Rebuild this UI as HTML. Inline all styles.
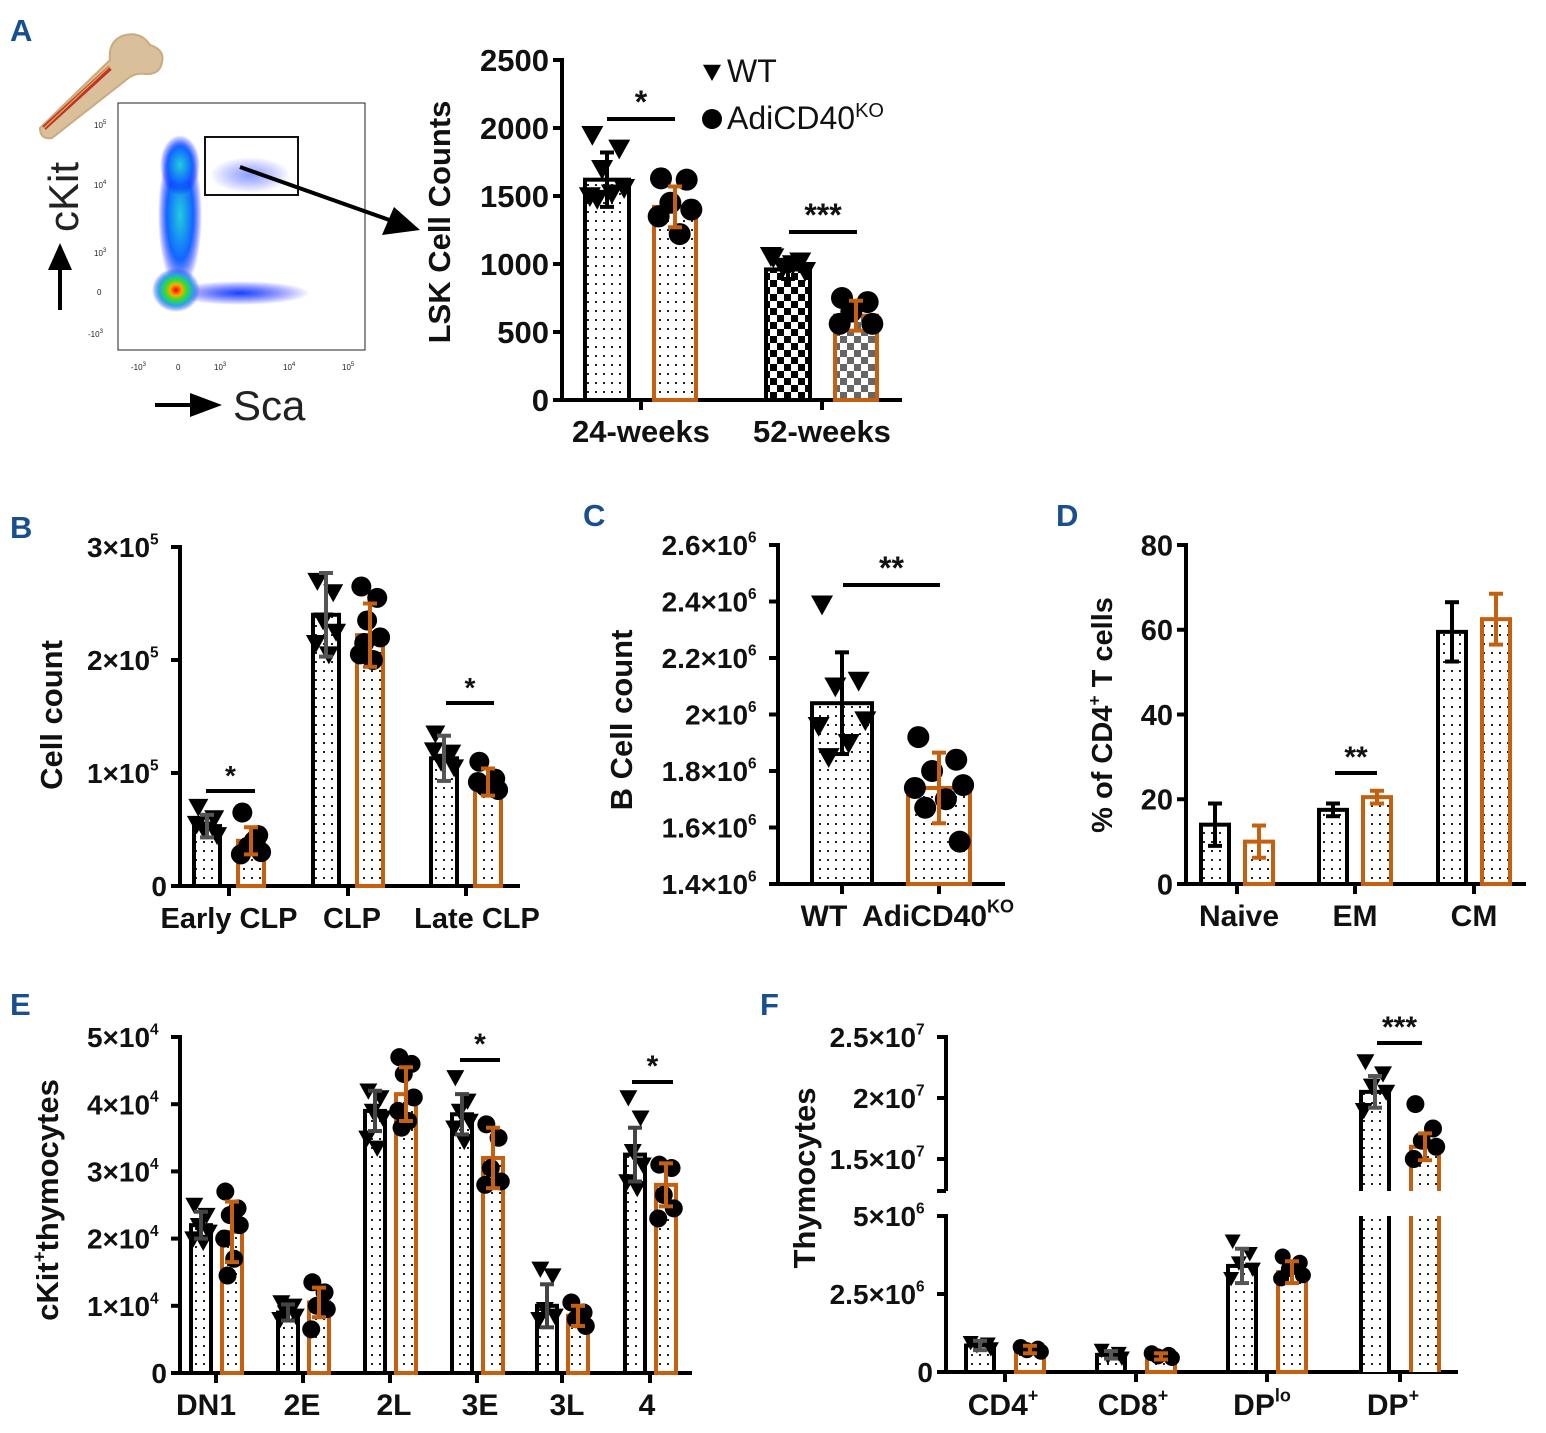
<!DOCTYPE html>
<html><head><meta charset="utf-8"><style>
html,body{margin:0;padding:0;background:#fff;}
svg{display:block;font-family:"Liberation Sans",Arial,sans-serif;}
.t{font-weight:bold;fill:#111;}
.pl{font-weight:bold;fill:#174f8f;font-size:31px;}
</style></head><body>
<svg id="fig" width="1546" height="1433" viewBox="0 0 1546 1433" xmlns="http://www.w3.org/2000/svg">
<defs>
<pattern id="dots" width="8" height="9" patternUnits="userSpaceOnUse"><rect width="8" height="9" fill="#fff"/><rect x="3" y="4" width="2" height="2" fill="#222"/></pattern>
<pattern id="chk" width="14" height="14" patternUnits="userSpaceOnUse"><rect width="14" height="14" fill="#fff"/><rect width="7" height="7" fill="#000"/><rect x="7" y="7" width="7" height="7" fill="#000"/></pattern>
<pattern id="chk2" width="14" height="14" patternUnits="userSpaceOnUse"><rect width="14" height="14" fill="#fff"/><rect width="7" height="7" fill="#666"/><rect x="7" y="7" width="7" height="7" fill="#666"/></pattern>
<radialGradient id="blob1"><stop offset="0" stop-color="#e00"/><stop offset="0.25" stop-color="#fa0"/><stop offset="0.45" stop-color="#3d3"/><stop offset="0.7" stop-color="#2ad"/><stop offset="1" stop-color="#22f" stop-opacity="0"/></radialGradient>
<radialGradient id="blob2"><stop offset="0" stop-color="#2cd"/><stop offset="0.6" stop-color="#16f"/><stop offset="1" stop-color="#00f" stop-opacity="0"/></radialGradient>
<radialGradient id="blob3"><stop offset="0" stop-color="#14f"/><stop offset="1" stop-color="#00f" stop-opacity="0"/></radialGradient>
</defs>

<text class="pl" x="10" y="41">A</text>
<text class="pl" x="10" y="538">B</text>
<text class="pl" x="583" y="526">C</text>
<text class="pl" x="1056" y="526">D</text>
<text class="pl" x="10" y="1015">E</text>
<text class="pl" x="760" y="1015">F</text>

<g>
<path d="M40,128 L110,60 Q108,42 122,36 Q140,30 150,45 Q165,50 162,62 Q160,75 145,74 Q135,72 126,80 L52,138 Q40,140 40,128 Z" fill="#d9c09a" stroke="#c9ab80" stroke-width="2"/>
<path d="M44,128 L110,68" stroke="#b33" stroke-width="5"/>
<path d="M44,128 L110,66" stroke="#e9a030" stroke-width="1.5"/>
</g>

<g>
<rect x="118" y="103" width="247" height="247" fill="#fff" stroke="#222" stroke-width="1"/>
<ellipse cx="180" cy="215" rx="22" ry="75" fill="url(#blob2)"/>
<ellipse cx="180" cy="165" rx="20" ry="30" fill="url(#blob2)"/>
<ellipse cx="240" cy="293" rx="70" ry="12" fill="url(#blob3)"/>
<ellipse cx="250" cy="175" rx="40" ry="18" fill="url(#blob3)" opacity="0.5"/>
<ellipse cx="176" cy="290" rx="24" ry="22" fill="url(#blob1)"/>
<rect x="205" y="137" width="93" height="58" fill="none" stroke="#111" stroke-width="2"/>
<line x1="240" y1="167" x2="395" y2="222" stroke="#000" stroke-width="4"/>
<polygon points="420,230 382,235 394,207" fill="#000"/>
<g font-size="8" fill="#222">
<text x="94" y="128">10<tspan dy="-4" font-size="6">5</tspan></text>
<text x="94" y="188">10<tspan dy="-4" font-size="6">4</tspan></text>
<text x="94" y="256">10<tspan dy="-4" font-size="6">3</tspan></text>
<text x="97" y="295">0</text>
<text x="88" y="337">-10<tspan dy="-4" font-size="6">3</tspan></text>
<text x="131" y="370">-10<tspan dy="-4" font-size="6">3</tspan></text>
<text x="176" y="370">0</text>
<text x="214" y="370">10<tspan dy="-4" font-size="6">3</tspan></text>
<text x="283" y="370">10<tspan dy="-4" font-size="6">4</tspan></text>
<text x="342" y="370">10<tspan dy="-4" font-size="6">5</tspan></text>
</g>
<line x1="60" y1="310" x2="60" y2="255" stroke="#000" stroke-width="4"/>
<polygon points="60,243 48,270 72,270" fill="#000"/>
<text x="78" y="232" font-size="42" fill="#222" transform="rotate(-90 78 232)">cKit</text>
<line x1="155" y1="405" x2="205" y2="405" stroke="#000" stroke-width="4"/>
<polygon points="222,405 190,393 190,417" fill="#000"/>
<text x="233" y="420" font-size="42" fill="#222">Sca</text>
</g>

<g id="charts"></g>
</svg>
<script>
const aCats = ['24-weeks','52-weeks'];
const aWT = [1620, 960];
const aKO = [1420, 620];
const aWTerr = [200, 70];
const aKOerr = [150, 110];
const aWTpts = [[1950,1850,1700,1560,1500,1520,1480],[1050,1020,980,950,1060,1000]];
const aKOpts = [[1630,1620,1450,1400,1350,1220],[750,720,650,560,560]];
const aTicks = [0,500,1000,1500,2000,2500];
const bCats = ['Early CLP','CLP','Late CLP'];
const bWT = [53000, 240000, 113000];
const bKO = [40000, 222000, 92000];
const bWTerr = [10000, 37000, 20000];
const bKOerr = [12000, 28000, 12000];
const bWTpts = [[70000,60000,50000,45000,55000],[270000,260000,235000,225000,215000,205000],[135000,118000,110000,105000,120000]];
const bKOpts = [[65000,45000,35000,30000,28000,40000],[265000,255000,235000,220000,205000,200000,215000],[110000,95000,88000,85000,92000]];
const bTicks = [0,100000,200000,300000];
const bTickLbl = [['0',''],['1×10','5'],['2×10','5'],['3×10','5']];
const cCats = ['WT','AdiCD40'];
const cWT = [2.04e6];
const cKO = [1.74e6];
const cWTerr = [0.18e6];
const cKOerr = [0.125e6];
const cWTpts = [[2.39e6,2.12e6,2.1e6,1.98e6,1.96e6,1.9e6,1.85e6]];
const cKOpts = [[1.92e6,1.84e6,1.8e6,1.75e6,1.74e6,1.7e6,1.67e6,1.55e6]];
const cTicks = [1.4e6,1.6e6,1.8e6,2.0e6,2.2e6,2.4e6,2.6e6];
const cTickLbl = [['1.4×10','6'],['1.6×10','6'],['1.8×10','6'],['2×10','6'],['2.2×10','6'],['2.4×10','6'],['2.6×10','6']];
const dCats = ['Naive','EM','CM'];
const dWT = [14, 17.5, 59.5];
const dKO = [10, 20.5, 62.5];
const dWTerr = [5, 1.5, 7];
const dKOerr = [3.8, 1.5, 6];
const dTicks = [0,20,40,60,80];
const eCats = ['DN1','2E','2L','3E','3L','4'];
const eWT = [22000, 9000, 39000, 38500, 10000, 32500];
const eKO = [21000, 10500, 41500, 32000, 8500, 28000];
const eWTerr = [2000, 1200, 3000, 3000, 3200, 4000];
const eKOerr = [4500, 2200, 4000, 4500, 1500, 3200];
const eWTpts = [[25000,23500,22000,21000,20000,19500],[10500,10000,9000,8500,8000],[42000,41000,39000,38000,35000,33500],[44000,40500,39000,37500,36500,34500],[15500,14500,9500,8500,8000],[41000,38000,33000,31000,28500,27500]];
const eKOpts = [[27000,24500,23500,22000,20000,17000,14500],[13500,12000,10000,9500,6500],[47000,46000,44500,41000,39000,37500,36500],[37000,35000,30500,28500,28000],[10500,9000,8000,7000],[31000,30500,26500,24500,23000]];
const eTicks = [0,10000,20000,30000,40000,50000];
const fCats = ['CD4','CD8','DP','DP'];
const fSup = ['+','+','lo','+'];
const fWT = [0.85e6, 0.55e6, 3.4e6, 2.05e7];
const fKO = [0.72e6, 0.5e6, 3.2e6, 1.6e7];
const fWTerr = [0.15e6, 0.12e6, 0.55e6, 1.3e6];
const fKOerr = [0.12e6, 0.1e6, 0.35e6, 1.1e6];
const fWTpts = [[0.95e6,0.9e6,0.85e6,0.75e6],[0.7e6,0.6e6,0.5e6,0.45e6],[4.2e6,3.8e6,3.5e6,3.3e6,3.0e6],[2.3e7,2.2e7,2.1e7,2.05e7,1.9e7]];
const fKOpts = [[0.8e6,0.75e6,0.7e6,0.65e6],[0.6e6,0.55e6,0.5e6,0.45e6],[3.7e6,3.5e6,3.3e6,3.1e6,3.0e6],[1.95e7,1.75e7,1.65e7,1.6e7,1.5e7]];
const fTicksLo = [0,2.5e6,5e6];
const fTicksHi = [1.5e7,2e7,2.5e7];
const fLblLo = [['0',''],['2.5×10','6'],['5×10','6']];
const fLblHi = [['1.5×10','7'],['2×10','7'],['2.5×10','7']];

const NS='http://www.w3.org/2000/svg';
const root=document.getElementById('charts');
function mk(tag,attrs,parent){const e=document.createElementNS(NS,tag);for(const k in attrs)e.setAttribute(k,attrs[k]);(parent||root).appendChild(e);return e;}
const ORANGE='#c4600f';
function linScale(v0,v1,p0,p1){return v=>p0+(v-v0)*(p1-p0)/(v1-v0);}
function tickLabel(g,x,y,main,sup,size){
  const t=mk('text',{x:x,y:y,'text-anchor':'end','font-size':size,class:'t'},g);
  
  
  if(sup){t.appendChild(document.createTextNode(main));const s=mk('tspan',{dy:-size*0.45,'font-size':size*0.55},t);s.textContent=sup;t.setAttribute('x',x-size*0.3);}
  else t.textContent=main;
}
function tri(g,x,y,r){const p=mk('polygon',{points:`${x-r},${y-r*0.8} ${x+r},${y-r*0.8} ${x},${y+r}`,fill:'#000'},g);}
function circ(g,x,y,r){const c=mk('circle',{cx:x,cy:y,r:r,fill:'#000'},g);}
function errbar(g,x,ytop,ybot,col,w){
  mk('line',{x1:x,x2:x,y1:ytop,y2:ybot,stroke:col,'stroke-width':w},g);
  mk('line',{x1:x-7,x2:x+7,y1:ytop,y2:ytop,stroke:col,'stroke-width':w},g);
  mk('line',{x1:x-7,x2:x+7,y1:ybot,y2:ybot,stroke:col,'stroke-width':w},g);
}
const jit=[-12,10,-4,14,-14,4,-8,12];
function drawBars(g,cx,val,err,pts,y,base,bw,stroke,fill,errCol,isWT,ptR){
  const yt=y(val);
  const b=mk('rect',{x:cx-bw/2,y:yt,width:bw,height:base-yt,fill:fill,stroke:stroke,'stroke-width':4},g);
  
  
  if(pts) pts.forEach((p,i)=>{const px=cx+jit[i%jit.length]*bw/36; if(isWT)tri(g,px,y(p),ptR);else circ(g,px,y(p),ptR);});
  if(err!=null) errbar(g,cx,y(val+err),y(val-err),errCol,4);
}
function sig(g,x1,x2,yl,txt,size){
  mk('line',{x1:x1,x2:x2,y1:yl,y2:yl,stroke:'#000','stroke-width':4},g);
  const t=mk('text',{x:(x1+x2)/2,y:yl-6,'text-anchor':'middle','font-size':size,class:'t'},g);
  
  
  t.textContent=txt;
}
function axes(g,ax,ytop,ybase,xend,ticks,y,labels,size,catX,cats){
  mk('line',{x1:ax,x2:ax,y1:ytop-2,y2:ybase+2,stroke:'#000','stroke-width':4},g);
  mk('line',{x1:ax-2,x2:xend,y1:ybase,y2:ybase,stroke:'#000','stroke-width':4},g);
  ticks.forEach((tv,i)=>{const yy=y(tv);mk('line',{x1:ax-9,x2:ax,y1:yy,y2:yy,stroke:'#000','stroke-width':4},g);
    const l=labels?labels[i]:[String(tv),''];tickLabel(g,ax-13,yy+size*0.36,l[0],l[1],size);});
  cats.forEach((c,i)=>{mk('line',{x1:catX[i],x2:catX[i],y1:ybase,y2:ybase+10,stroke:'#000','stroke-width':4},g);});
}
function catLabel(g,x,y,txt,sup,size){
  const t=mk('text',{x:x,y:y,'text-anchor':'middle','font-size':size,class:'t'},g);
  
  
  t.appendChild(document.createTextNode(txt));
  if(sup){const s=mk('tspan',{dy:-size*0.45,'font-size':size*0.6},t);s.textContent=sup;}
}
function yTitle(g,x,y,parts,size){
  const t=mk('text',{x:x,y:y,'text-anchor':'middle','font-size':size,class:'t',transform:`rotate(-90 ${x} ${y})`},g);
  
  
  parts.forEach(p=>{const s=mk('tspan',p.sup?{dy:-size*0.4,'font-size':size*0.6}:(p.after?{dy:size*0.4}:{}),t);s.textContent=p.t;});
}

(function(){
  const g=mk('g',{});  
  const y=linScale(0,2500,400,60);
  const catX=[641,822];
  axes(g,562,60,400,902,aTicks,y,null,31,catX,aCats);
  const fillsWT=['url(#dots)','url(#chk)'], fillsKO=['url(#dots)','url(#chk2)'];
  aCats.forEach((c,i)=>{
    drawBars(g,catX[i]-34,aWT[i],aWTerr[i],aWTpts[i],y,400,44,'#000',fillsWT[i],'#000',true,11);
    drawBars(g,catX[i]+34,aKO[i],aKOerr[i],aKOpts[i],y,400,42,ORANGE,fillsKO[i],ORANGE,false,11);
    catLabel(g,catX[i],442,c,'',31);
  });
  sig(g,607,675,119,'*',32); sig(g,789,857,232,'***',32);
  yTitle(g,450,222,[{t:'LSK Cell Counts'}],31);
  const lg=mk('g',{});  
  tri(lg,712,72,9); circ(lg,712,119,10);
  const t1=mk('text',{x:727,y:82,'font-size':32,fill:'#111'},lg); t1.textContent='WT';
  const t2=mk('text',{x:727,y:129,'font-size':32,fill:'#111'},lg); t2.appendChild(document.createTextNode('AdiCD40'));
  const s=mk('tspan',{dy:-12,'font-size':20},t2); s.textContent='KO';
})();

(function(){
  const g=mk('g',{});  
  const y=linScale(0,300000,886,547);
  const catX=[229,348,466];
  axes(g,180,547,886,520,bTicks,y,bTickLbl,28,catX,bCats);
  bCats.forEach((c,i)=>{
    drawBars(g,catX[i]-22,bWT[i],bWTerr[i],bWTpts[i],y,886,26,'#000','url(#dots)','#555',true,10);
    drawBars(g,catX[i]+22,bKO[i],bKOerr[i],bKOpts[i],y,886,26,ORANGE,'url(#dots)',ORANGE,false,10);
    catLabel(g,[229,352,477][i],928,c,'',29);
  });
  sig(g,206,255,791,'*',28); sig(g,446,494,703,'*',28);
  yTitle(g,62,715,[{t:'Cell count'}],31);
})();

(function(){
  const g=mk('g',{});  
  const y=linScale(1.4e6,2.6e6,884,545);
  const catX=[842,939];
  axes(g,778,545,884,1005,cTicks,y,cTickLbl,28,catX,cCats);
  drawBars(g,842,cWT[0],cWTerr[0],cWTpts[0],y,884,60,'#000','url(#dots)','#000',true,11);
  drawBars(g,939,cKO[0],cKOerr[0],cKOpts[0],y,884,62,ORANGE,'url(#dots)',ORANGE,false,11);
  catLabel(g,824,926,'WT','',30); catLabel(g,938,926,'AdiCD40','KO',30);
  sig(g,843,940,585,'**',32);
  yTitle(g,632,720,[{t:'B Cell count'}],31);
})();

(function(){
  const g=mk('g',{});  
  const y=linScale(0,80,884,545);
  const catX=[1237,1355,1474];
  axes(g,1186,545,884,1526,dTicks,y,null,29,catX,dCats);
  dCats.forEach((c,i)=>{
    drawBars(g,catX[i]-22,dWT[i],dWTerr[i],null,y,884,28,'#000','url(#dots)','#000',true,9);
    drawBars(g,catX[i]+22,dKO[i],dKOerr[i],null,y,884,28,ORANGE,'url(#dots)',ORANGE,false,9);
    catLabel(g,[1239,1355,1474][i],926,c,'',30);
  });
  sig(g,1335,1377,773,'**',30);
  yTitle(g,1112,715,[{t:'% of CD4'},{t:'+',sup:true},{t:' T cells',after:true}],29);
})();

(function(){
  const g=mk('g',{});  
  const y=linScale(0,50000,1373,1037);
  const catX=[216,303,390,477,562,650];
  const eLbl=eTicks.map(v=>v===0?['0','']:[String(v/10000)+'×10','4']);
  axes(g,180,1037,1373,692,eTicks,y,eLbl,28,catX,eCats);
  eCats.forEach((c,i)=>{
    drawBars(g,catX[i]-15,eWT[i],eWTerr[i],eWTpts[i],y,1373,20,'#000','url(#dots)','#444',true,9);
    drawBars(g,catX[i]+16,eKO[i],eKOerr[i],eKOpts[i],y,1373,20,ORANGE,'url(#dots)',ORANGE,false,9);
    catLabel(g,[206,302,394,480,567,647][i],1415,c,'',30);
  });
  sig(g,460,500,1060,'*',30); sig(g,632,673,1082,'*',30);
  yTitle(g,58,1200,[{t:'cKit'},{t:'+',sup:true},{t:'thymocytes',after:true}],31);
})();

(function(){
  const g=mk('g',{});  
  const yLo=linScale(0,5e6,1372,1216);
  const yHi=linScale(1.5e7,2.5e7,1159,1037);
  const ax=946;
  mk('line',{x1:ax,x2:ax,y1:1035,y2:1191,stroke:'#000','stroke-width':4},g);
  mk('line',{x1:ax-9,x2:ax,y1:1191,y2:1191,stroke:'#000','stroke-width':4},g);
  mk('line',{x1:ax,x2:ax,y1:1214,y2:1374,stroke:'#000','stroke-width':4},g);
  mk('line',{x1:ax-2,x2:1458,y1:1372,y2:1372,stroke:'#000','stroke-width':4},g);
  fTicksLo.forEach((t,i)=>{const yy=yLo(t);mk('line',{x1:ax-9,x2:ax,y1:yy,y2:yy,stroke:'#000','stroke-width':4},g);tickLabel(g,ax-13,yy+10,fLblLo[i][0],fLblLo[i][1],28);});
  fTicksHi.forEach((t,i)=>{const yy=yHi(t);mk('line',{x1:ax-9,x2:ax,y1:yy,y2:yy,stroke:'#000','stroke-width':4},g);tickLabel(g,ax-13,yy+10,fLblHi[i][0],fLblHi[i][1],28);});
  const catX=[1005,1136,1267,1400];
  fCats.forEach((c,i)=>{
    mk('line',{x1:catX[i],x2:catX[i],y1:1372,y2:1382,stroke:'#000','stroke-width':4},g);
    [[fWT,fWTerr,fWTpts,-25,'#000','#555',true],[fKO,fKOerr,fKOpts,25,ORANGE,ORANGE,false]].forEach(s=>{
      const val=s[0][i], cx=catX[i]+s[3];
      if(val<6e6){
        drawBars(g,cx,val,s[1][i],s[2][i],yLo,1372,28,s[4],'url(#dots)',s[5],s[6],8);
      } else {
        const yt=yHi(val);
        const top=mk('rect',{x:cx-14,y:yt,width:28,height:1191-yt,fill:'url(#dots)',stroke:'none'},g);
        
        
        mk('rect',{x:cx-14,y:1216,width:28,height:156,fill:'url(#dots)',stroke:'none'},g);
        mk('path',{d:`M${cx-14},1191 L${cx-14},${yt} L${cx+14},${yt} L${cx+14},1191 M${cx-14},1216 L${cx-14},1372 M${cx+14},1216 L${cx+14},1372`,fill:'none',stroke:s[4],'stroke-width':4},g);
        s[2][i].forEach((p,k)=>{const px=cx+jit[k]*0.8; if(s[6])tri(g,px,yHi(p),9);else circ(g,px,yHi(p),9);});
        errbar(g,cx,yHi(val+s[1][i]),yHi(val-s[1][i]),s[5],4);
      }
    });
    catLabel(g,[1003,1133,1262,1393][i],1415,c,fSup[i],30);
  });
  sig(g,1377,1422,1043,'***',30);
  yTitle(g,815,1178,[{t:'Thymocytes'}],31);
})();
</script>
</body></html>
